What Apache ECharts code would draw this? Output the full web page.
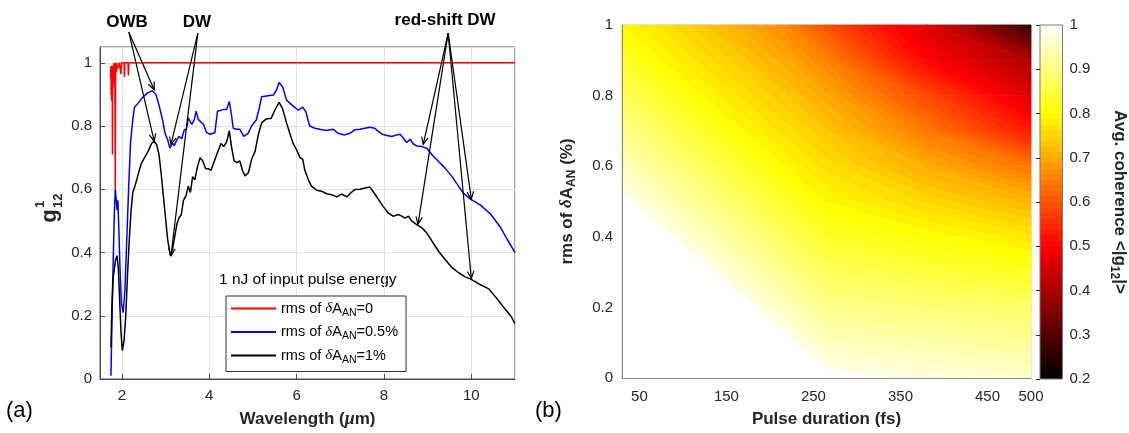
<!DOCTYPE html>
<html><head><meta charset="utf-8">
<script src="https://cdn.jsdelivr.net/npm/echarts@6/dist/echarts.min.js"></script>
<style>html,body{margin:0;padding:0;background:#fff}#c{width:1129px;height:433px}</style>
</head><body><div id="c"></div>
<script>
const FONT = '"Liberation Sans", Arial, Helvetica, sans-serif';
const SERIF = '"Liberation Serif", "DejaVu Serif", serif';

// ---------- Panel (a): coherence spectra ----------
const seriesNames = ['rms=0', 'rms=0.5%', 'rms=1%'];
const legendLabels = ['rms of {d|δ}A{s|AN}=0', 'rms of {d|δ}A{s|AN}=0.5%', 'rms of {d|δ}A{s|AN}=1%'];

const wlRed = [1.74,1.75,1.755,1.76,1.765,1.77,1.775,1.78,1.785,1.79,1.795,1.80,1.805,1.81,1.815,1.82,1.825,1.83,1.84,1.85,1.86,1.87,1.88,1.89,1.92,1.94,1.97,1.98,1.99,2.05,2.06,2.07,2.14,2.15,2.16,11];
const gRed = [0.95,0.99,0.90,0.99,0.88,0.98,0.93,0.99,0.71,0.97,0.92,0.99,0.95,0.995,0.93,0.99,0.96,1.0,0.99,0.60,1.0,0.97,1.0,0.98,0.99,1.0,1.0,0.965,1.0,1.0,0.955,1.0,1.0,0.96,1.0,1.0];

const wlBlue = [1.75,1.77,1.79,1.81,1.83,1.85,1.87,1.89,1.91,1.93,
1.96,1.99,2.03,2.07,2.11,2.16,2.2,2.25,2.29,2.36,
2.47,2.59,2.7,2.78,2.85,2.93,2.99,3.05,3.1,3.16,
3.2,3.26,3.31,3.37,3.43,3.48,3.52,3.6,3.66,3.7,
3.75,3.87,3.94,4.02,4.13,4.19,4.32,4.4,4.46,4.51,
4.55,4.63,4.7,4.79,4.89,4.97,5.08,5.15,5.2,5.31,
5.47,5.54,5.6,5.68,5.77,5.89,6.04,6.14,6.21,6.3,
6.42,6.53,6.69,6.84,6.95,7.1,7.22,7.33,7.45,7.56,
7.68,7.79,7.87,7.95,8.06,8.18,8.29,8.37,8.44,8.52,
8.6,8.67,8.75,8.87,8.98,9.1,9.25,9.4,9.56,9.71,
9.82,9.98,10.09,10.21,10.44,10.67,10.82,11.0];
const gBlue = [0.01,0.15,0.30,0.42,0.53,0.60,0.57,0.535,0.565,0.48,
0.34,0.24,0.21,0.28,0.43,0.62,0.75,0.82,0.86,0.87,
0.89,0.905,0.912,0.90,0.867,0.82,0.777,0.756,0.73,0.746,
0.738,0.757,0.767,0.76,0.788,0.79,0.826,0.805,0.82,0.847,
0.821,0.805,0.779,0.774,0.779,0.847,0.852,0.852,0.878,0.835,
0.793,0.79,0.79,0.767,0.777,0.80,0.82,0.86,0.893,0.895,
0.898,0.914,0.938,0.924,0.882,0.867,0.85,0.86,0.846,0.80,
0.793,0.79,0.786,0.79,0.777,0.772,0.777,0.788,0.79,0.793,
0.796,0.793,0.783,0.775,0.77,0.767,0.772,0.774,0.762,0.748,
0.758,0.744,0.737,0.735,0.73,0.709,0.688,0.667,0.64,0.609,
0.588,0.569,0.56,0.55,0.522,0.479,0.442,0.40];

const wlBlack = [1.75,1.77,1.80,1.83,1.86,1.89,1.92,1.95,1.98,2.01,
2.05,2.09,2.13,2.17,2.21,2.25,2.30,2.36,2.44,2.52,
2.60,2.68,2.74,2.80,2.85,2.90,2.95,3.00,3.05,3.11,
3.16,3.21,3.26,3.31,3.36,3.41,3.47,3.52,3.57,3.62,
3.67,3.73,3.79,3.85,3.92,3.98,4.04,4.12,4.2,4.27,
4.33,4.4,4.46,4.51,4.57,4.63,4.7,4.76,4.82,4.9,
4.97,5.05,5.12,5.2,5.3,5.42,5.5,5.6,5.68,5.77,
5.85,5.92,6.0,6.08,6.14,6.19,6.27,6.34,6.46,6.57,
6.69,6.8,6.92,7.03,7.15,7.22,7.33,7.45,7.56,7.68,
7.75,7.87,7.98,8.1,8.21,8.33,8.41,8.48,8.56,8.64,
8.75,8.87,8.98,9.1,9.25,9.4,9.56,9.71,9.86,10.0,
10.21,10.4,10.59,10.74,10.9,11.0];
const gBlack = [0.10,0.22,0.32,0.35,0.38,0.39,0.35,0.25,0.15,0.09,
0.12,0.20,0.33,0.44,0.53,0.59,0.61,0.64,0.68,0.70,
0.72,0.745,0.752,0.74,0.71,0.65,0.58,0.51,0.44,0.39,
0.41,0.45,0.49,0.51,0.52,0.565,0.58,0.61,0.59,0.64,
0.63,0.67,0.70,0.69,0.665,0.665,0.66,0.69,0.72,0.745,
0.735,0.75,0.785,0.735,0.69,0.684,0.69,0.66,0.642,0.653,
0.695,0.72,0.77,0.81,0.822,0.825,0.85,0.875,0.855,0.81,
0.775,0.745,0.725,0.70,0.695,0.66,0.63,0.61,0.597,0.594,
0.586,0.583,0.576,0.585,0.576,0.586,0.599,0.60,0.604,0.607,
0.593,0.569,0.546,0.525,0.515,0.52,0.515,0.509,0.515,0.499,
0.488,0.478,0.462,0.436,0.404,0.378,0.352,0.336,0.323,0.315,
0.298,0.285,0.254,0.227,0.2,0.175];

// annotations (data coordinates)
const annoText = ['OWB', 'DW', 'red-shift DW'];
const annoTextX = [2.12, 3.72, 9.4];
const annoTextY = [1.128, 1.128, 1.134];
const arrowFromX = [2.16, 2.16, 3.74, 3.74, 9.47, 9.47, 9.47, 9.47];
const arrowFromY = [1.097, 1.097, 1.094, 1.094, 1.094, 1.094, 1.094, 1.094];
const arrowToX   = [2.74, 2.74, 3.125, 3.125, 8.9, 10.0, 8.78, 10.0];
const arrowToY   = [0.915, 0.752, 0.742, 0.39, 0.742, 0.569, 0.49, 0.318];

// ---------- Panel (b): average coherence map ----------
const pulseDur = [30, 77, 124, 171, 218, 265, 380, 500];
const rmsGrid = [0, 0.1, 0.2, 0.3, 0.4, 0.5, 0.6, 0.7, 0.8, 0.9, 1.0];
const coh30  = [1, 1, 1, 1, 1, 1, 0.955, 0.915, 0.877, 0.838, 0.80];
const coh77  = [1, 1, 1, 1, 1, 0.955, 0.915, 0.877, 0.838, 0.80, 0.77];
const coh124 = [1, 1, 1, 1, 0.955, 0.915, 0.877, 0.838, 0.80, 0.77, 0.74];
const coh171 = [1, 1, 1, 0.955, 0.915, 0.877, 0.838, 0.80, 0.77, 0.74, 0.705];
const coh218 = [1, 1, 0.955, 0.915, 0.877, 0.838, 0.80, 0.77, 0.74, 0.705, 0.665];
const coh265 = [1, 0.955, 0.915, 0.877, 0.838, 0.80, 0.77, 0.74, 0.705, 0.66, 0.60];
const coh380 = [0.98, 0.94, 0.90, 0.855, 0.81, 0.76, 0.71, 0.65, 0.59, 0.51, 0.465];
const coh500 = [0.965, 0.925, 0.885, 0.83, 0.78, 0.72, 0.645, 0.535, 0.47, 0.41, 0.27];
const pulseTicks = [50, 150, 250, 350, 450, 500];
const cbRange = [0.2, 1.0];

// ---------- helpers ----------
const HOT = ['#000000','#550000','#aa0000','#ff0000','#ff5500','#ffaa00','#ffff00','#ffff80','#ffffff'];
const STEP = 0.0125;
const WHITE_LEVEL = 0.9875;
function hot(v) {
  const t = Math.min(1, Math.max(0, (v - cbRange[0]) / (cbRange[1] - cbRange[0])));
  return echarts.color.lerp(t, HOT);
}
function bandColor(k) {
  const lo = cbRange[0] + k * STEP;
  return lo >= WHITE_LEVEL - 1e-9 ? '#ffffff' : hot(lo);
}
function triFill(P, V) {
  const vmin = Math.min(V[0], V[1], V[2]), vmax = Math.max(V[0], V[1], V[2]);
  const kmin = Math.floor((vmin - cbRange[0]) / STEP + 1e-9);
  const kmax = Math.floor((vmax - cbRange[0]) / STEP - 1e-9);
  if (kmax <= kmin || vmax - vmin < 1e-9) return bandColor(kmin);
  const d1x = P[1][0]-P[0][0], d1y = P[1][1]-P[0][1], d2x = P[2][0]-P[0][0], d2y = P[2][1]-P[0][1];
  const dv1 = V[1]-V[0], dv2 = V[2]-V[0];
  const det = d1x*d2y - d1y*d2x;
  const a = (dv1*d2y - d1y*dv2)/det, b = (d1x*dv2 - dv1*d2x)/det;
  const g2 = a*a + b*b;
  const sx = P[0][0] + (vmin - V[0])/g2*a, sy = P[0][1] + (vmin - V[0])/g2*b;
  const ex = P[0][0] + (vmax - V[0])/g2*a, ey = P[0][1] + (vmax - V[0])/g2*b;
  const span = vmax - vmin, stops = [];
  for (let k = kmin; k <= kmax; k++) {
    const lo = Math.max(vmin, cbRange[0] + k*STEP), hi = Math.min(vmax, cbRange[0] + (k+1)*STEP);
    const c = bandColor(k);
    stops.push({offset: (lo - vmin)/span, color: c}, {offset: (hi - vmin)/span, color: c});
  }
  return new echarts.graphic.LinearGradient(sx, sy, ex, ey, stops, true);
}

const cohCols = [coh30, coh77, coh124, coh171, coh218, coh265, coh380, coh500];
const cells = [];
for (let i = 0; i < pulseDur.length - 1; i++) {
  for (let j = 0; j < rmsGrid.length - 1; j++) {
    cells.push([pulseDur[i], pulseDur[i+1], rmsGrid[j], rmsGrid[j+1],
      cohCols[i][j], cohCols[i+1][j], cohCols[i][j+1], cohCols[i+1][j+1]]);
  }
}
function heatRender(params, api) {
  const x0 = api.value(0), x1 = api.value(1), y0 = api.value(2), y1 = api.value(3);
  const v00 = api.value(4), v10 = api.value(5), v01 = api.value(6), v11 = api.value(7);
  const p00 = api.coord([x0, y0]), p10 = api.coord([x1, y0]), p01 = api.coord([x0, y1]), p11 = api.coord([x1, y1]);
  const tris = [[[p00, p10, p01], [v00, v10, v01]], [[p10, p11, p01], [v10, v11, v01]]];
  return {type: 'group', children: tris.map(t => {
    const f = triFill(t[0], t[1]);
    return {type: 'polygon', shape: {points: t[0]}, style: {fill: f, stroke: f, lineWidth: 0.7}};
  })};
}
function cbRender(params, api) {
  const pTop = api.coord([api.value(0), api.value(3)]);
  const pBot = api.coord([api.value(1), api.value(2)]);
  const n = 64, stops = [];
  for (let i = 0; i < n; i++) {
    const c = hot(cbRange[1] - (i + 0.5) / n * (cbRange[1] - cbRange[0]));
    stops.push({offset: i / n, color: c}, {offset: (i + 1) / n, color: c});
  }
  const g = new echarts.graphic.LinearGradient(0, pTop[1], 0, pBot[1], stops, true);
  return {type: 'rect', shape: {x: pTop[0], y: pTop[1], width: pBot[0] - pTop[0], height: pBot[1] - pTop[1]},
    style: {fill: g, stroke: '#7a7a7a', lineWidth: 1}};
}
function arrowRender(params, api) {
  const o = api.coord([api.value(0), api.value(1)]);
  const t = api.coord([api.value(2), api.value(3)]);
  const dx = t[0]-o[0], dy = t[1]-o[1], L = Math.hypot(dx, dy), ux = dx/L, uy = dy/L;
  const hl = 8, ang = 0.42, c = Math.cos(ang), s = Math.sin(ang);
  const h1 = [t[0] - hl*(ux*c - uy*s), t[1] - hl*(uy*c + ux*s)];
  const h2 = [t[0] - hl*(ux*c + uy*s), t[1] - hl*(uy*c - ux*s)];
  return {type: 'group', children: [
    {type: 'line', shape: {x1: o[0], y1: o[1], x2: t[0], y2: t[1]}, style: {stroke: '#000', lineWidth: 1.2}},
    {type: 'polyline', shape: {points: [h1, t, h2]}, style: {stroke: '#000', lineWidth: 1.2, fill: null}}
  ]};
}
function annoRender(params, api) {
  const p = api.coord([api.value(0), api.value(1)]);
  return {type: 'text', x: p[0], y: p[1], style: {text: annoText[params.dataIndex], fill: '#000',
    font: 'bold 17px ' + FONT, align: 'center', verticalAlign: 'middle', textAlign: 'center', textVerticalAlign: 'middle'}};
}
const zip = (xs, ys) => xs.map((x, i) => [x, ys[i]]);

const axisText = {fontFamily: FONT, fontSize: 15, color: '#262626'};
const subRich = {
  d: {fontFamily: SERIF, fontStyle: 'italic', fontWeight: 'bold', fontSize: 17, color: '#262626'},
  s: {fontFamily: FONT, fontWeight: 'bold', fontSize: 12, color: '#262626', padding: [10, 0, 0, 0]},
  m: {fontFamily: SERIF, fontStyle: 'italic', fontWeight: 'bold', fontSize: 18, color: '#262626'}
};

const chart = echarts.init(document.getElementById('c'));
chart.setOption({
  animation: false,
  backgroundColor: '#fff',
  grid: [
    {left: 100, top: 47, width: 415, height: 334, show: true, borderColor: '#4d4d4d', borderWidth: 1, backgroundColor: 'transparent'},
    {left: 622, top: 25, width: 409, height: 354, show: true, borderColor: '#c8c8c8', borderWidth: 1, backgroundColor: 'transparent'},
    {left: 1040, top: 25, width: 26, height: 354}
  ],
  xAxis: [
    {gridIndex: 0, type: 'value', min: 1.5, max: 11, splitNumber: 5,
      axisLine: {lineStyle: {color: '#4d4d4d'}}, axisTick: {inside: true, length: 5, lineStyle: {color: '#4d4d4d'}},
      axisLabel: Object.assign({margin: 9, interval: 0, showMinLabel: false, showMaxLabel: false}, axisText),
      splitLine: {show: true, lineStyle: {color: '#e3e3e3'}},
      name: 'Wavelength ({m|μ}m)', nameLocation: 'middle', nameGap: 31,
      nameTextStyle: {fontFamily: FONT, fontWeight: 'bold', fontSize: 17, color: '#262626', rich: subRich}},
    {gridIndex: 1, type: 'value', min: 30, max: 500, z: 5,
      axisLine: {lineStyle: {color: '#8a8a8a'}}, axisTick: {show: false},
      axisLabel: Object.assign({margin: 11, customValues: pulseTicks}, axisText),
      splitLine: {show: false},
      name: 'Pulse duration (fs)', nameLocation: 'middle', nameGap: 33,
      nameTextStyle: {fontFamily: FONT, fontWeight: 'bold', fontSize: 17, color: '#262626'}},
    {gridIndex: 2, type: 'value', min: 0, max: 1, show: false}
  ],
  yAxis: [
    {gridIndex: 0, type: 'value', min: 0, max: 1.05, interval: 0.2,
      axisLine: {show: true, lineStyle: {color: '#4d4d4d'}}, axisTick: {show: true, inside: true, length: 5, lineStyle: {color: '#4d4d4d'}},
      axisLabel: Object.assign({margin: 8, showMaxLabel: false}, axisText),
      splitLine: {show: true, lineStyle: {color: '#e3e3e3'}}},
    {gridIndex: 1, type: 'value', min: 0, max: 1, interval: 0.2, z: 5,
      axisLine: {show: true, lineStyle: {color: '#8a8a8a'}}, axisTick: {show: false},
      axisLabel: Object.assign({margin: 9}, axisText), splitLine: {show: false},
      name: 'rms of {d|δ}A{s|AN} (%)', nameLocation: 'middle', nameGap: 44,
      nameTextStyle: {fontFamily: FONT, fontWeight: 'bold', fontSize: 17, color: '#262626', rich: subRich}},
    {gridIndex: 2, type: 'value', position: 'right', min: cbRange[0], max: cbRange[1], interval: 0.1, z: 5,
      axisLine: {show: false}, axisTick: {show: true, inside: true, length: 4, lineStyle: {color: '#262626'}},
      axisLabel: Object.assign({margin: 7}, axisText), splitLine: {show: false},
      name: 'Avg. coherence <|g{s|12}|>', nameLocation: 'middle', nameRotate: -90, nameGap: 46,
      nameTextStyle: {fontFamily: FONT, fontWeight: 'bold', fontSize: 17, color: '#262626', rich: subRich}}
  ],
  legend: {
    left: 226, top: 296, orient: 'vertical', icon: 'rect', itemWidth: 45, itemHeight: 2, itemGap: 6,
    padding: [5, 8, 6, 5], borderColor: '#333', borderWidth: 1, backgroundColor: '#fff',
    data: seriesNames,
    formatter: name => legendLabels[seriesNames.indexOf(name)],
    textStyle: {fontFamily: FONT, fontSize: 14.5, color: '#000', rich: {
      d: {fontFamily: SERIF, fontStyle: 'italic', fontSize: 15, color: '#000'},
      s: {fontFamily: FONT, fontSize: 10.5, color: '#000', padding: [9, 0, 0, 0]}
    }}
  },
  graphic: [
    {type: 'text', left: 6, top: 400, style: {text: '(a)', font: '22px ' + FONT, fill: '#000'}},
    {type: 'text', left: 535, top: 400, style: {text: '(b)', font: '22px ' + FONT, fill: '#000'}},
    {type: 'text', left: 219, top: 272, style: {text: '1 nJ of input pulse energy', font: '15.5px ' + FONT, fill: '#000'}},
    {type: 'group', x: 50, y: 216, rotation: Math.PI / 2, children: [
      {type: 'text', x: 0, y: 0, style: {text: 'g', font: 'bold 22px ' + FONT, fill: '#262626', align: 'center', verticalAlign: 'middle'}},
      {type: 'text', x: 8, y: -10, style: {text: '1', font: 'bold 13px ' + FONT, fill: '#262626', align: 'left', verticalAlign: 'middle'}},
      {type: 'text', x: 8, y: 8, style: {text: '12', font: 'bold 13px ' + FONT, fill: '#262626', align: 'left', verticalAlign: 'middle'}}
    ]}
  ],
  series: [
    {type: 'line', name: seriesNames[0], xAxisIndex: 0, yAxisIndex: 0, data: zip(wlRed, gRed), symbol: 'none',
      lineStyle: {color: '#ff0000', width: 1.5}, itemStyle: {color: '#ff0000'}},
    {type: 'line', name: seriesNames[1], xAxisIndex: 0, yAxisIndex: 0, data: zip(wlBlue, gBlue), symbol: 'none',
      lineStyle: {color: '#0000ff', width: 1.5}, itemStyle: {color: '#0000ff'}},
    {type: 'line', name: seriesNames[2], xAxisIndex: 0, yAxisIndex: 0, data: zip(wlBlack, gBlack), symbol: 'none',
      lineStyle: {color: '#000000', width: 1.5}, itemStyle: {color: '#000000'}},
    {type: 'custom', xAxisIndex: 0, yAxisIndex: 0, silent: true, clip: false, z: 4,
      data: arrowFromX.map((x, i) => [x, arrowFromY[i], arrowToX[i], arrowToY[i]]),
      encode: {x: [0, 2], y: [1, 3]}, renderItem: arrowRender},
    {type: 'custom', xAxisIndex: 0, yAxisIndex: 0, silent: true, clip: false, z: 4,
      data: zip(annoTextX, annoTextY), encode: {x: 0, y: 1}, renderItem: annoRender},
    {type: 'custom', xAxisIndex: 1, yAxisIndex: 1, silent: true, data: cells,
      encode: {x: [0, 1], y: [2, 3]}, renderItem: heatRender},
    {type: 'custom', xAxisIndex: 2, yAxisIndex: 2, silent: true, data: [[0, 1, cbRange[0], cbRange[1]]],
      encode: {x: [0, 1], y: [2, 3]}, renderItem: cbRender}
  ]
});
</script></body></html>
